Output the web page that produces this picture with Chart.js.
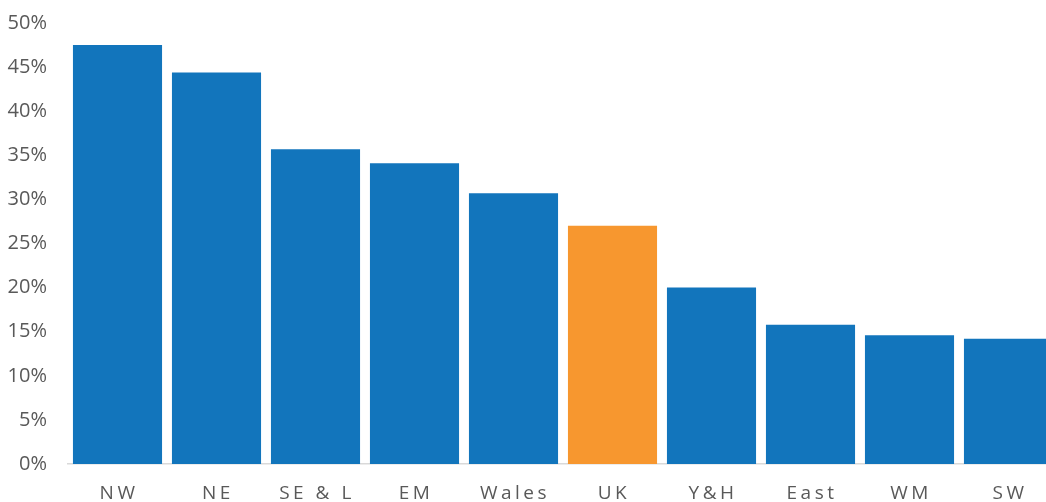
<!DOCTYPE html>
<html>
<head>
<meta charset="utf-8">
<script src="https://cdn.jsdelivr.net/npm/chart.js@4/dist/chart.umd.min.js"></script>
<style>
  html, body { margin: 0; padding: 0; background: #fff; overflow: hidden; }
  #wrap { position: relative; width: 1060px; height: 502px; }
</style>
</head>
<body>
<div id="wrap"><canvas id="chart"></canvas></div>
<script>
// Data
const regions = ["NW", "NE", "SE & L", "EM", "Wales", "UK", "Y&H", "East", "WM", "SW"];
const shares = [47.5, 44.4, 35.7, 34.1, 30.7, 27.0, 20.0, 15.8, 14.6, 14.2];
const highlight = "UK";

const blue = "#1275BC";
const orange = "#F7972F";
const textColor = "#595959";
const fontFamily = "'Open Sans', 'DejaVu Sans', sans-serif";

// draws x labels with letter spacing, positioned by the x scale
const spacedLabels = {
    id: "spacedLabels",
    afterDraw(chart) {
        const ctx = chart.ctx;
        const xScale = chart.scales.x;
        ctx.save();
        ctx.font = "19px " + fontFamily;
        ctx.fillStyle = textColor;
        ctx.textAlign = "center";
        ctx.textBaseline = "middle";
        ctx.letterSpacing = "3.5px";
        regions.forEach((name, i) => {
            const x = xScale.getPixelForValue(i) + 1.5;
            ctx.fillText(name, x, xScale.bottom - 8);
        });
        ctx.restore();
    }
};

new Chart(document.getElementById("chart"), {
    type: "bar",
    data: {
        labels: regions,
        datasets: [{
            data: shares,
            backgroundColor: regions.map(r => r === highlight ? orange : blue),
            borderWidth: 0,
            barPercentage: 0.9,
            categoryPercentage: 1.0,
        }],
    },
    options: {
        responsive: true,
        maintainAspectRatio: false,
        animation: false,
        layout: { padding: { top: 0, right: 2, bottom: 0, left: 0 } },
        plugins: { legend: { display: false }, tooltip: { enabled: false } },
        scales: {
            x: {
                grid: { display: false },
                border: { display: true, color: "#D9D9D9", width: 1.5 },
                ticks: { color: "transparent", font: { size: 19, family: fontFamily }, padding: 6 },
                afterFit: s => { s.height = 38; },
            },
            y: {
                min: 0,
                max: 50,
                grid: { display: false },
                border: { display: false },
                ticks: {
                    stepSize: 5,
                    color: textColor,
                    font: { size: 20, family: fontFamily, lineHeight: 1.0 },
                    padding: 13,
                    callback: v => v + "%",
                },
                afterFit: s => { s.width = 68; },
            },
        },
    },
    plugins: [spacedLabels],
});
</script>
</body>
</html>
